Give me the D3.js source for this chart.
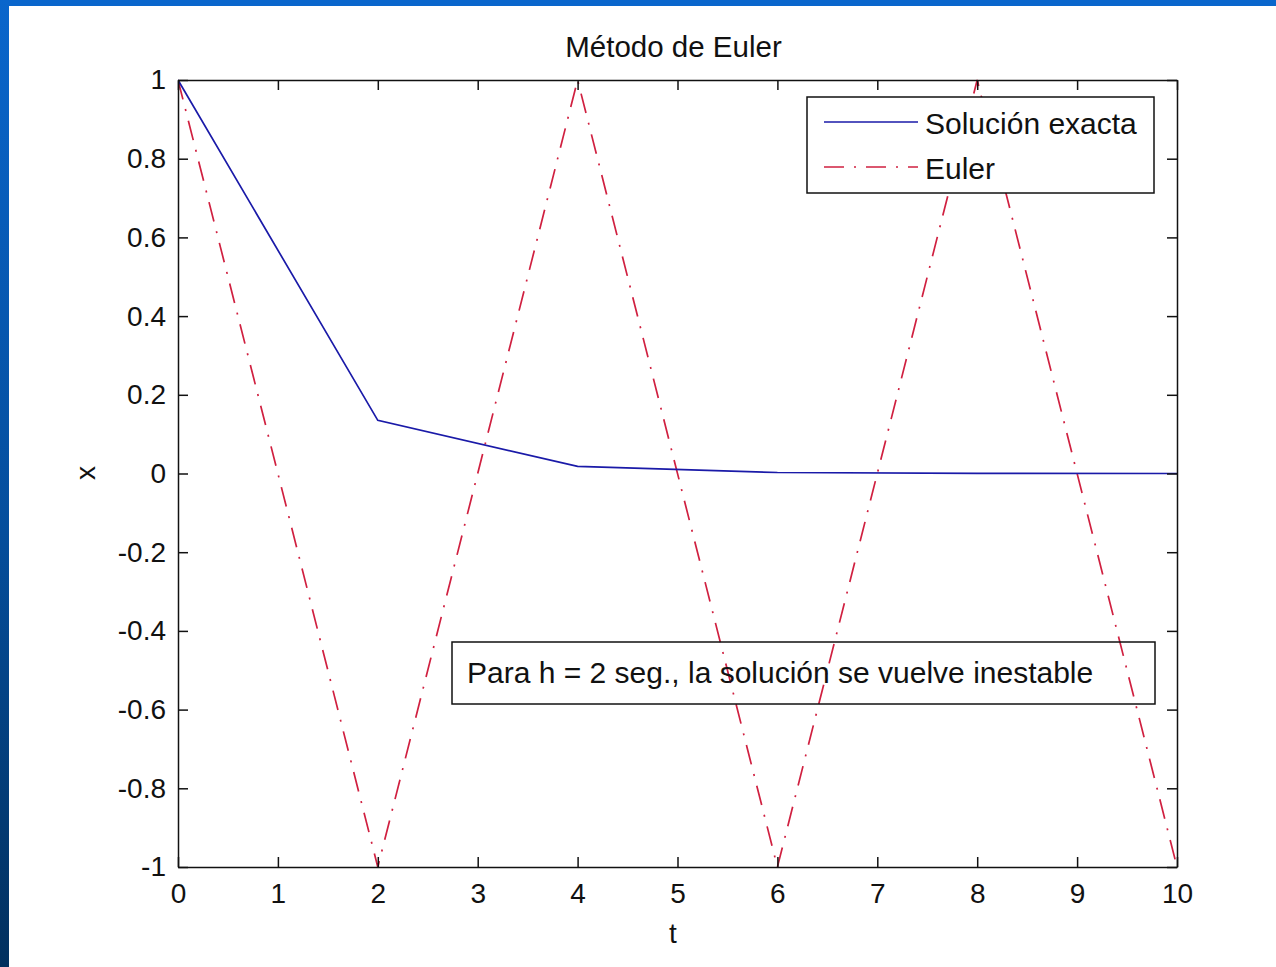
<!DOCTYPE html>
<html>
<head>
<meta charset="utf-8">
<script src="https://cdn.jsdelivr.net/npm/d3@7"></script>
<style>
  html, body { margin: 0; padding: 0; background: #ffffff; }
  svg { display: block; }
  text { font-family: "Liberation Sans", Arial, sans-serif; fill: #111; }
</style>
</head>
<body>
<svg id="chart" width="1276" height="967"></svg>
<script>
// ---- data ----
const tValues = [0, 2, 4, 6, 8, 10];
const exactValues = [1, 0.135, 0.018, 0.0025, 0.0003, 0.00005];
const eulerValues = [1, -1, 1, -1, 1, -1];
const xTickValues = [0, 1, 2, 3, 4, 5, 6, 7, 8, 9, 10];
const yTickValues = [-1, -0.8, -0.6, -0.4, -0.2, 0, 0.2, 0.4, 0.6, 0.8, 1];
const seriesNames = ["Solución exacta", "Euler"];
const titleText = "Método de Euler";
const xLabel = "t";
const yLabel = "x";
const noteText = "Para h = 2 seg., la solución se vuelve inestable";

// ---- layout ----
const W = 1276, H = 967;
const pLeft = 178, pRight = 1177, pTop = 80, pBottom = 867;
const svg = d3.select("#chart");

// slide background (blue frame)
const defs = svg.append("defs");
const grad = defs.append("linearGradient").attr("id", "sideGrad")
  .attr("x1", 0).attr("y1", 0).attr("x2", 0).attr("y2", 1);
grad.append("stop").attr("offset", "0%").attr("stop-color", "#0a66cc");
grad.append("stop").attr("offset", "55%").attr("stop-color", "#054e9c");
grad.append("stop").attr("offset", "100%").attr("stop-color", "#02305e");
svg.append("rect").attr("x", 0).attr("y", 0).attr("width", W).attr("height", H).attr("fill", "#ffffff");
svg.append("rect").attr("x", 0).attr("y", 0).attr("width", W).attr("height", 6).attr("fill", "#0a66cc");
svg.append("rect").attr("x", 0).attr("y", 0).attr("width", 9).attr("height", H).attr("fill", "url(#sideGrad)");

const x = d3.scaleLinear().domain([0, 10]).range([pLeft, pRight]);
const y = d3.scaleLinear().domain([-1, 1]).range([pBottom, pTop]);

defs.append("clipPath").attr("id", "plotClip")
  .append("rect").attr("x", pLeft).attr("y", pTop - 1).attr("width", pRight - pLeft).attr("height", pBottom - pTop + 2);

const fmt = d => String(+d.toFixed(1));

// lines
const exactData = tValues.map((t, i) => ({ t, v: exactValues[i] }));
const eulerData = tValues.map((t, i) => ({ t, v: eulerValues[i] }));
const line = d3.line().x(d => x(d.t)).y(d => y(d.v));

const plot = svg.append("g").attr("clip-path", "url(#plotClip)");
plot.append("path").datum(eulerData).attr("d", line)
  .attr("fill", "none").attr("stroke", "#d02040").attr("stroke-width", 1.7)
  .attr("stroke-dasharray", "20,10,2,10");
plot.append("path").datum(exactData).attr("d", line)
  .attr("fill", "none").attr("stroke", "#1a1aa8").attr("stroke-width", 1.7);

// axes
function styleAxis(g) {
  g.selectAll("path.domain").attr("stroke", "#111").attr("stroke-width", 1.5);
  g.selectAll(".tick line").attr("stroke", "#111").attr("stroke-width", 1.5);
  g.selectAll(".tick text").attr("font-size", 28).attr("fill", "#111")
    .attr("font-family", "'Liberation Sans', Arial, sans-serif");
}
svg.append("g").attr("transform", `translate(0,${pBottom})`)
  .call(d3.axisBottom(x).tickValues(xTickValues).tickFormat(fmt).tickSize(-10).tickSizeOuter(0).tickPadding(16))
  .call(styleAxis);
svg.append("g").attr("transform", `translate(${pLeft},0)`)
  .call(d3.axisLeft(y).tickValues(yTickValues).tickFormat(fmt).tickSize(-10).tickSizeOuter(0).tickPadding(12))
  .call(styleAxis);
svg.append("g").attr("transform", `translate(0,${pTop})`)
  .call(d3.axisTop(x).tickValues(xTickValues).tickFormat("").tickSize(-10).tickSizeOuter(0))
  .call(styleAxis);
svg.append("g").attr("transform", `translate(${pRight},0)`)
  .call(d3.axisRight(y).tickValues(yTickValues).tickFormat("").tickSize(-10).tickSizeOuter(0))
  .call(styleAxis);

// title and axis labels
svg.append("text").attr("x", (pLeft + pRight) / 2 - 4).attr("y", 57)
  .attr("text-anchor", "middle").attr("font-size", 29.5).text(titleText);
svg.append("text").attr("x", 673).attr("y", 943)
  .attr("text-anchor", "middle").attr("font-size", 28).text(xLabel);
svg.append("text").attr("transform", "translate(95,473) rotate(-90)")
  .attr("text-anchor", "middle").attr("font-size", 28).text(yLabel);

// legend
const lg = svg.append("g");
lg.append("rect").attr("x", 807).attr("y", 97).attr("width", 347).attr("height", 96)
  .attr("fill", "#ffffff").attr("stroke", "#111").attr("stroke-width", 1.5);
const legendStyles = [
  { color: "#1a1aa8", dash: null, y: 122 },
  { color: "#d02040", dash: "20,10,2,10", y: 167 }
];
seriesNames.forEach((name, i) => {
  const s = legendStyles[i];
  const l = lg.append("line").attr("x1", 824).attr("x2", 918).attr("y1", s.y).attr("y2", s.y)
    .attr("stroke", s.color).attr("stroke-width", 1.7);
  if (s.dash) l.attr("stroke-dasharray", s.dash);
  lg.append("text").attr("x", 925).attr("y", s.y + 12).attr("font-size", 30).text(name);
});

// annotation box (transparent)
svg.append("rect").attr("x", 452).attr("y", 642).attr("width", 703).attr("height", 62)
  .attr("fill", "none").attr("stroke", "#111").attr("stroke-width", 1.5);
svg.append("text").attr("x", 467).attr("y", 683).attr("font-size", 30).text(noteText);
</script>
</body>
</html>
